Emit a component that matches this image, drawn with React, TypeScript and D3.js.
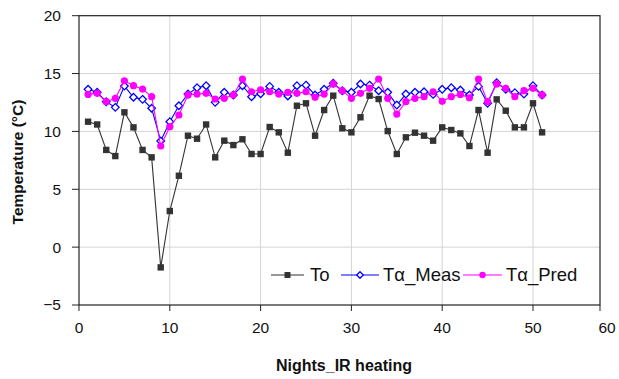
import React from "react";
import * as d3 from "d3";

const nights = d3.range(1, 52);
const toValues = [10.84, 10.6, 8.4, 7.87, 11.65, 10.35, 8.4, 7.76, -1.75, 3.12, 6.17, 9.63, 9.37, 10.6, 7.76, 9.2, 8.82, 9.32, 8.05, 8.05, 10.38, 9.92, 8.16, 12.22, 12.43, 9.63, 11.85, 13.09, 10.27, 9.92, 11.22, 13.09, 12.8, 10.03, 8.05, 9.49, 9.89, 9.63, 9.2, 10.35, 10.12, 9.83, 8.74, 11.85, 8.16, 12.77, 11.79, 10.35, 10.35, 12.43, 9.92];
const measValues = [13.64, 13.38, 12.57, 12.08, 13.92, 12.95, 12.77, 12.0, 9.17, 10.84, 12.22, 13.23, 13.78, 13.95, 12.51, 13.38, 13.15, 13.95, 13.0, 13.26, 13.89, 13.38, 13.06, 13.95, 14.0, 13.15, 13.64, 14.16, 13.52, 13.38, 14.1, 14.0, 13.52, 13.38, 12.28, 13.23, 13.38, 13.43, 13.2, 13.64, 13.78, 13.58, 13.15, 13.89, 12.43, 14.21, 13.64, 13.35, 13.23, 13.95, 13.15];
const predValues = [13.2, 13.29, 12.57, 12.86, 14.38, 13.95, 13.66, 13.0, 8.74, 10.41, 11.42, 13.15, 13.23, 13.29, 12.8, 12.86, 13.15, 14.53, 13.43, 13.6, 13.43, 13.23, 13.38, 13.29, 13.43, 12.95, 13.23, 14.1, 13.52, 12.86, 13.29, 13.72, 14.53, 12.86, 11.5, 12.57, 12.86, 13.0, 13.43, 12.6, 13.0, 13.2, 12.91, 14.53, 12.57, 14.1, 13.72, 13.0, 13.52, 13.72, 13.15];
const xTicks = [0, 10, 20, 30, 40, 50, 60];
const yTicks = [-5, 0, 5, 10, 15, 20];
const seriesNames = ["To", "T\u03b1_Meas", "T\u03b1_Pred"];

const FONT = "'Liberation Sans', Arial, Helvetica, sans-serif";

export default function App() {
  const W = 619, H = 379;
  const left = 79, right = 600, top = 15.7, bottom = 305;
  const x = d3.scaleLinear().domain([0, 50]).range([left, 533]);
  const y = d3.scaleLinear().domain([-5, 20]).range([bottom, top]);
  const xPos = (t: number) => (t === 60 ? right : x(t));

  const line = (vals: number[]) =>
    d3.line<number>().x((_, i) => x(nights[i])).y((v) => y(v))(vals) || "";

  const diamond = (cx: number, cy: number, r: number) =>
    `M${cx},${cy - r}L${cx + r},${cy}L${cx},${cy + r}L${cx - r},${cy}Z`;

  const legendItems = [
    { name: seriesNames[0], x0: 271, len: 33, tx: 310, color: "#333", kind: "sq" },
    { name: seriesNames[1], x0: 341, len: 38, tx: 383, color: "#0000ff", kind: "dia" },
    { name: seriesNames[2], x0: 463, len: 39, tx: 506, color: "#ff00ff", kind: "dot" },
  ];

  return (
    <svg width={W} height={H} style={{ position: "absolute", left: 0, top: 0, background: "#fff" }}>
      {/* grid */}
      {yTicks.filter((t) => t > -5 && t < 20).map((t) => (
        <line key={"gy" + t} x1={left} x2={right} y1={y(t)} y2={y(t)} stroke="#d4d4d4" strokeWidth={1} />
      ))}
      {xTicks.filter((t) => t > 0 && t < 60).map((t) => (
        <line key={"gx" + t} x1={xPos(t)} x2={xPos(t)} y1={top} y2={bottom} stroke="#d4d4d4" strokeWidth={1} />
      ))}
      {/* frame */}
      <rect x={left} y={top} width={right - left} height={bottom - top} fill="none" stroke="#222" strokeWidth={1.2} />
      {/* y ticks */}
      {yTicks.map((t) => (
        <g key={"yt" + t}>
          <line x1={left - 7} x2={left} y1={y(t)} y2={y(t)} stroke="#222" strokeWidth={1} />
          <text x={61} y={y(t)} dy="0.35em" textAnchor="end" fontFamily={FONT} fontSize={15.5} fill="#111">
            {t < 0 ? "\u2212" + Math.abs(t) : t}
          </text>
        </g>
      ))}
      {/* x ticks */}
      {xTicks.map((t) => (
        <g key={"xt" + t}>
          <line x1={xPos(t)} x2={xPos(t)} y1={bottom} y2={bottom + 6} stroke="#222" strokeWidth={1} />
          <text x={t === 60 ? right + 7 : xPos(t)} y={bottom + 28} textAnchor="middle" fontFamily={FONT} fontSize={15.5} fill="#111">
            {t}
          </text>
        </g>
      ))}
      {/* axis titles */}
      <text x={344} y={371} textAnchor="middle" fontFamily={FONT} fontSize={16} fontWeight="bold" fill="#111">
        Nights_IR heating
      </text>
      <text transform={`translate(23,162) rotate(-90)`} textAnchor="middle" fontFamily={FONT} fontSize={15.5} fontWeight="bold" fill="#111">
        Temperature (°C)
      </text>

      {/* To */}
      <path d={line(toValues)} fill="none" stroke="#333" strokeWidth={1.1} />
      {toValues.map((v, i) => (
        <rect key={"to" + i} x={x(nights[i]) - 3.2} y={y(v) - 3.2} width={6.4} height={6.4} fill="#333" />
      ))}
      {/* Meas */}
      <path d={line(measValues)} fill="none" stroke="#0000ff" strokeWidth={1.1} />
      {measValues.map((v, i) => (
        <path key={"m" + i} d={diamond(x(nights[i]), y(v), 3.8)} fill="#fff" stroke="#0000ff" strokeWidth={1.3} />
      ))}
      {/* Pred */}
      <path d={line(predValues)} fill="none" stroke="#ff00ff" strokeWidth={1.1} />
      {predValues.map((v, i) => (
        <circle key={"p" + i} cx={x(nights[i])} cy={y(v)} r={3.6} fill="#ff00ff" />
      ))}

      {/* legend */}
      {legendItems.map((it) => {
        const ly = 275;
        const mx = it.x0 + it.len / 2;
        return (
          <g key={it.name}>
            <line x1={it.x0} x2={it.x0 + it.len} y1={ly} y2={ly} stroke={it.color} strokeWidth={1.1} />
            {it.kind === "sq" && <rect x={mx - 3} y={ly - 3} width={6} height={6} fill="#333" />}
            {it.kind === "dia" && <path d={diamond(mx, ly, 3.3)} fill="#fff" stroke={it.color} strokeWidth={1.3} />}
            {it.kind === "dot" && <circle cx={mx} cy={ly} r={3.2} fill={it.color} />}
            <text x={it.tx} y={ly} dy="0.35em" fontFamily={FONT} fontSize={18.5} fill="#111">
              {it.name}
            </text>
          </g>
        );
      })}
    </svg>
  );
}
